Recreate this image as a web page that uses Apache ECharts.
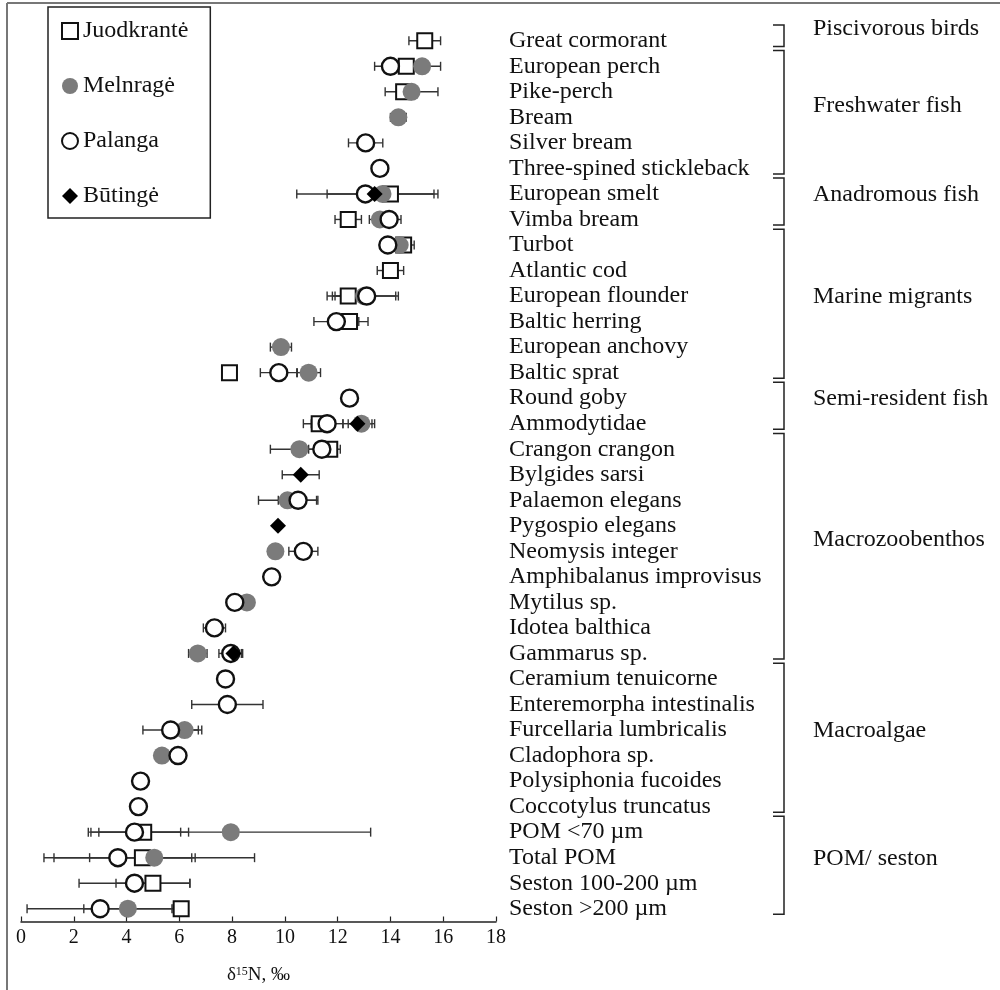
<!DOCTYPE html>
<html>
<head>
<meta charset="utf-8">
<script src="https://cdn.jsdelivr.net/npm/echarts@6/dist/echarts.min.js"></script>
<style>
html,body{margin:0;padding:0;background:#fff;}
#chart{width:1000px;height:990px;}
</style>
</head>
<body>
<div id="chart"></div>
<script>
const categories = ["Great cormorant","European perch","Pike-perch","Bream","Silver bream","Three-spined stickleback","European smelt","Vimba bream","Turbot","Atlantic cod","European flounder","Baltic herring","European anchovy","Baltic sprat","Round goby","Ammodytidae","Crangon crangon","Bylgides sarsi","Palaemon elegans","Pygospio elegans","Neomysis integer","Amphibalanus improvisus","Mytilus sp.","Idotea balthica","Gammarus sp.","Ceramium tenuicorne","Enteremorpha intestinalis","Furcellaria lumbricalis","Cladophora sp.","Polysiphonia fucoides","Coccotylus truncatus","POM <70 µm","Total POM","Seston 100-200 µm","Seston >200 µm"];

const seriesNames = ["Juodkrantė","Melnragė","Palanga","Būtingė"];

// index: 0..34 as in categories
const juodVal = [15.3,14.6,14.5,null,null,null,14.0,12.4,14.5,14.0,12.4,12.45,null,7.9,null,11.3,11.7,null,null,null,null,null,null,null,null,null,null,null,null,null,null,4.65,4.6,5.0,6.07];
const juodErr = [0.6,null,null,null,null,null,null,0.5,0.4,0.5,0.8,0.7,null,null,null,0.6,0.4,null,null,null,null,null,null,null,null,null,null,null,null,null,null,1.7,2.0,1.4,null];

const melnVal = [null,15.2,14.8,14.3,null,null,13.7,13.6,14.35,null,13.0,null,9.85,10.9,null,12.9,10.55,null,10.1,null,9.64,null,8.56,null,6.7,null,null,6.2,5.34,null,null,7.95,5.05,null,4.05];
const melnErr = [null,0.7,1.0,0.3,null,null,2.1,0.4,null,null,1.2,null,0.4,0.45,null,0.5,1.1,null,1.1,null,null,null,null,null,0.35,null,null,0.65,null,null,null,5.3,3.8,null,1.67];

const palVal = [null,14.0,null,null,13.06,13.6,13.05,13.95,13.9,null,13.1,11.95,null,9.77,12.45,11.6,11.4,null,10.5,null,10.7,9.5,8.1,7.33,7.95,7.75,7.82,5.67,5.95,4.53,4.45,4.3,3.67,4.3,3.0];
const palErr = [null,0.6,null,null,0.65,null,2.6,0.45,null,null,1.2,0.85,null,0.7,null,0.6,0.5,null,0.75,null,0.55,null,null,0.42,0.45,null,1.35,1.05,null,null,null,1.75,2.8,2.1,2.77];

const butVal = [null,null,null,null,null,null,13.4,null,null,null,null,null,null,null,null,12.75,null,10.6,null,9.74,null,null,null,null,8.05,null,null,null,null,null,null,null,null,null,null];
const butErr = [null,null,null,null,null,null,null,null,null,null,null,null,null,null,null,0.55,null,0.7,null,null,null,null,null,null,0.3,null,null,null,null,null,null,null,null,null,null];

const xTicks = [0,2,4,6,8,10,12,14,16,18];

const groupNames = ["Piscivorous birds","Freshwater fish","Anadromous fish","Marine migrants","Semi-resident fish","Macrozoobenthos","Macroalgae","POM/ seston"];
const groupStart = [0,1,6,8,14,16,25,31];
const groupEnd   = [0,5,7,13,15,24,30,34];

const SERIF = '"Liberation Serif","DejaVu Serif",serif';

function pts(vals){ return vals.map((v,i)=> v==null? null : [v,i]).filter(d=>d); }
function errs(vals,e){ const out=[]; vals.forEach((v,i)=>{ if(v!=null && e[i]!=null) out.push([v-e[i], v+e[i], i]); }); return out; }

function errSeries(name, vals, e){
  return {
    type:'custom', name: name+' err', z:1, silent:true,
    data: errs(vals,e),
    encode:{x:[0,1], y:2},
    renderItem:function(params, api){
      const lo = api.coord([api.value(0), api.value(2)]);
      const hi = api.coord([api.value(1), api.value(2)]);
      const h = 4.5;
      const st = {stroke:'#333', lineWidth:1.4};
      return {type:'group', children:[
        {type:'line', shape:{x1:lo[0],y1:lo[1],x2:hi[0],y2:hi[1]}, style:st},
        {type:'line', shape:{x1:lo[0],y1:lo[1]-h,x2:lo[0],y2:lo[1]+h}, style:st},
        {type:'line', shape:{x1:hi[0],y1:hi[1]-h,x2:hi[0],y2:hi[1]+h}, style:st}
      ]};
    }
  };
}

const chart = echarts.init(document.getElementById('chart'), null, {renderer:'canvas'});

const option = {
  backgroundColor:'#fff',
  animation:false,
  grid:{left:21, right:504, top:28, bottom:66},
  legend:{
    orient:'vertical', left:48, top:7,
    data:seriesNames,
    itemWidth:16, itemHeight:16, itemGap:31,
    padding:[12,22,10,13],
    borderColor:'#222', borderWidth:1.5,
    textStyle:{fontFamily:SERIF, fontSize:24, color:'#111', padding:[0,0,0,0]},
    selectedMode:false
  },
  xAxis:{
    type:'value', min:0, max:18, interval:2,
    axisLine:{show:true, lineStyle:{color:'#222', width:1.5}},
    axisTick:{show:true, inside:true, length:5, lineStyle:{color:'#222', width:1.2}},
    splitLine:{show:false},
    axisLabel:{fontFamily:SERIF, fontSize:20, color:'#111', margin:6,
      formatter:function(v){ return xTicks.indexOf(v)>=0 ? String(v) : ''; }},
    name:'{a|δ}{s|15}{a|N, ‰}', nameLocation:'middle', nameGap:44,
    nameTextStyle:{rich:{
      a:{fontFamily:SERIF, fontSize:19, color:'#111'},
      s:{fontFamily:SERIF, fontSize:12, color:'#111', verticalAlign:'top', padding:[0,0,8,0]}
    }}
  },
  yAxis:{
    type:'category', data:categories, inverse:true, position:'right',
    axisLine:{show:false}, axisTick:{show:false}, splitLine:{show:false},
    axisLabel:{interval:0, fontFamily:SERIF, fontSize:24, color:'#111', margin:13, align:'left'}
  },
  series:[
    errSeries('Juodkrantė', juodVal, juodErr),
    errSeries('Melnragė', melnVal, melnErr),
    errSeries('Palanga', palVal, palErr),
    errSeries('Būtingė', butVal, butErr),
    {name:'Juodkrantė', type:'scatter', z:3, data:pts(juodVal), symbol:'rect', symbolSize:15,
      itemStyle:{color:'#fff', borderColor:'#111', borderWidth:2, opacity:1}},
    {name:'Melnragė', type:'scatter', z:4, data:pts(melnVal), symbol:'circle', symbolSize:18,
      itemStyle:{color:'#7b7b7b', borderColor:'#7b7b7b', borderWidth:0, opacity:1}},
    {name:'Palanga', type:'scatter', z:5, data:pts(palVal), symbol:'circle', symbolSize:17,
      itemStyle:{color:'#fff', borderColor:'#111', borderWidth:2.4, opacity:1}},
    {name:'Būtingė', type:'scatter', z:6, data:pts(butVal), symbol:'diamond', symbolSize:16,
      itemStyle:{color:'#000', borderColor:'#000', borderWidth:0, opacity:1}}
  ]
};
chart.setOption(option);

// group brackets positioned via the category axis
const c0 = chart.convertToPixel({gridIndex:0},[0,0])[1];
const c1 = chart.convertToPixel({gridIndex:0},[0,1])[1];
const band = c1 - c0;
const gfx = [
  {type:'line', shape:{x1:7,y1:3,x2:1000,y2:3}, style:{stroke:'#777', lineWidth:2}},
  {type:'line', shape:{x1:7,y1:3,x2:7,y2:990}, style:{stroke:'#777', lineWidth:2}}
];
const bx = 784, bxl = 773;
groupNames.forEach((name,k)=>{
  const yTop = chart.convertToPixel({gridIndex:0},[0,groupStart[k]])[1] - 0.62*band;
  const yBot = chart.convertToPixel({gridIndex:0},[0,groupEnd[k]])[1] + 0.22*band;
  const st = {stroke:'#222', lineWidth:1.5, fill:null};
  gfx.push({type:'polyline', shape:{points:[[bxl,yTop],[bx,yTop],[bx,yBot],[bxl,yBot]]}, style:st});
  gfx.push({type:'text', x:813, y:(yTop+yBot)/2 - 7, style:{text:name, font:'24px '+SERIF, fill:'#111', textVerticalAlign:'middle', textAlign:'left'}});
});
chart.setOption({graphic:gfx});
</script>
</body>
</html>
